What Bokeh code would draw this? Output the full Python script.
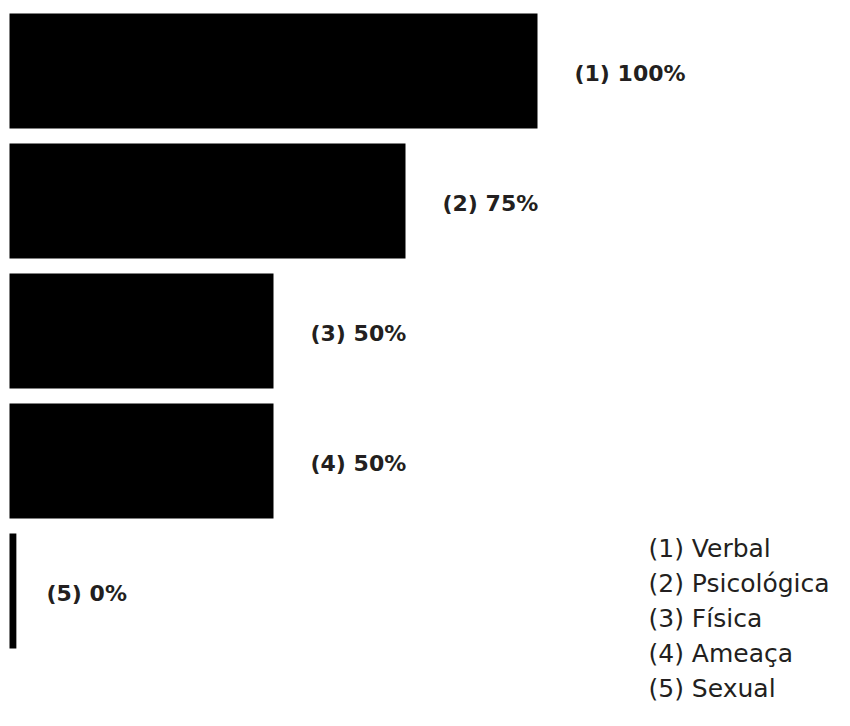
from bokeh.plotting import figure
from bokeh.models import Range1d, ColumnDataSource
from bokeh.core.properties import value
from bokeh.embed import file_html
from bokeh.resources import INLINE

# data
codes = ["(1)", "(2)", "(3)", "(4)", "(5)"]
categories = ["Verbal", "Psicológica", "Física", "Ameaça", "Sexual"]
percent = [100, 75, 50, 50, 0]
bar_labels = ["(1) 100%", "(2) 75%", "(3) 50%", "(4) 50%", "(5) 0%"]

W, H = 834, 710
px_per_unit = 5.28
x0 = -9 / px_per_unit
pitch = 130.0
y0 = -70.5 / pitch

stub = 1.3  # minimum visible width for zero bars
pos = list(range(len(categories)))
src = ColumnDataSource(dict(
    y=pos,
    right=[max(v, stub) for v in percent],
    lx=percent,
    label=bar_labels,
))

p = figure(width=W, height=H, output_backend="svg", toolbar_location=None,
           x_range=Range1d(x0, x0 + W / px_per_unit),
           y_range=Range1d(y0 + H / pitch, y0),
           min_border=0, outline_line_color=None)
p.axis.visible = False
p.grid.visible = False
p.background_fill_color = "white"
p.border_fill_color = "white"

p.hbar(y="y", left=0, right="right", height=115 / pitch, source=src,
       fill_color="black", line_color=None)

p.text(x="lx", y="y", text="label", source=src, x_offset=37, y_offset=2,
       text_font=value("DejaVu Sans"), text_font_style="bold", text_font_size="22px",
       text_color="#231f20", text_baseline="middle", text_align="left")

# legend
leg_x = x0 + 648 / px_per_unit
leg_src = ColumnDataSource(dict(
    x=[leg_x] * len(categories),
    y=[y0 + (548 + 35 * i) / pitch for i in pos],
    t=[f"{c} {n}" for c, n in zip(codes, categories)],
))
p.text(x="x", y="y", text="t", source=leg_src,
       text_font=value("DejaVu Sans"), text_font_size="25px",
       text_color="#231f20", text_baseline="middle", text_align="left")

open("out.html", "w").write(file_html(p, INLINE))
